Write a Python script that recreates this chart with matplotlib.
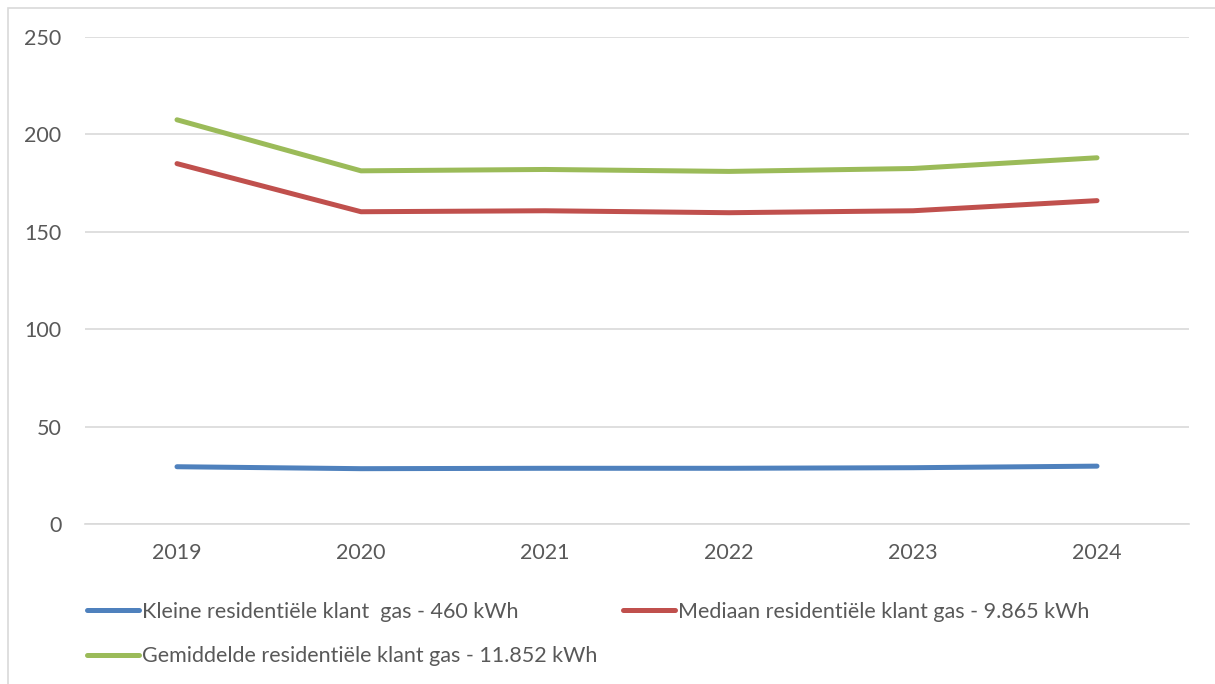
import matplotlib.pyplot as plt
from matplotlib.patches import Rectangle

years = ["2019", "2020", "2021", "2022", "2023", "2024"]
kleine = [29.4, 28.4, 28.6, 28.6, 28.9, 29.7]
mediaan = [185.0, 160.3, 160.8, 159.8, 160.8, 166.0]
gemiddelde = [207.5, 181.3, 182.0, 181.0, 182.5, 188.0]

labels = ["Kleine residentiële klant  gas - 460 kWh",
          "Mediaan residentiële klant gas - 9.865 kWh",
          "Gemiddelde residentiële klant gas - 11.852 kWh"]
colors = ["#4f81bd", "#c0504d", "#9bbb59"]
text_col = "#595959"

plt.rcParams['font.family'] = ['Lato', 'DejaVu Sans']

W, H = 1215, 684
fig = plt.figure(figsize=(W / 100, H / 100), dpi=100)
fig.patches.append(Rectangle((8 / W, -0.1), 1.2, 1 - 8 / H + 0.1, transform=fig.transFigure,
                             fill=False, edgecolor="#d9d9d9", linewidth=1.2))

ax = fig.add_axes([85 / W, 1 - 524 / H, (1189 - 85) / W, (524 - 37) / H])
x = range(len(years))
series = [kleine, mediaan, gemiddelde]
handles = []
for vals, lab, c in zip(series, labels, colors):
    h, = ax.plot(x, vals, color=c, lw=3.6, solid_capstyle="round",
                 solid_joinstyle="round", label=lab)
    handles.append(h)

ax.set_xlim(-0.5, len(years) - 0.5)
ax.set_ylim(0, 250)
ax.set_yticks(range(0, 251, 50))
ax.set_xticks(list(x))
ax.set_xticklabels(years)
ax.yaxis.grid(True, color="#d9d9d9", lw=1.2)
ax.set_axisbelow(True)
for s in ["top", "right", "left"]:
    ax.spines[s].set_visible(False)
ax.spines["bottom"].set_color("#d9d9d9")
ax.spines["bottom"].set_linewidth(1.2)
ax.tick_params(axis="both", length=0, labelsize=15.5, colors=text_col)
ax.tick_params(axis="y", pad=17)
ax.tick_params(axis="x", pad=14)

# legend entries ordered column-wise so they read like the original rows
order = [0, 2, 1]
leg = fig.legend([handles[i] for i in order], [labels[i] for i in order],
                 loc="upper left", bbox_to_anchor=(78 / W, 1 - 593 / H), ncol=2,
                 frameon=False, fontsize=15.5, handlelength=2.45, handletextpad=0.1,
                 columnspacing=1.2, labelspacing=1.15, borderaxespad=0)
for t in leg.get_texts():
    t.set_color(text_col)

fig.savefig("out.png", dpi=100)
